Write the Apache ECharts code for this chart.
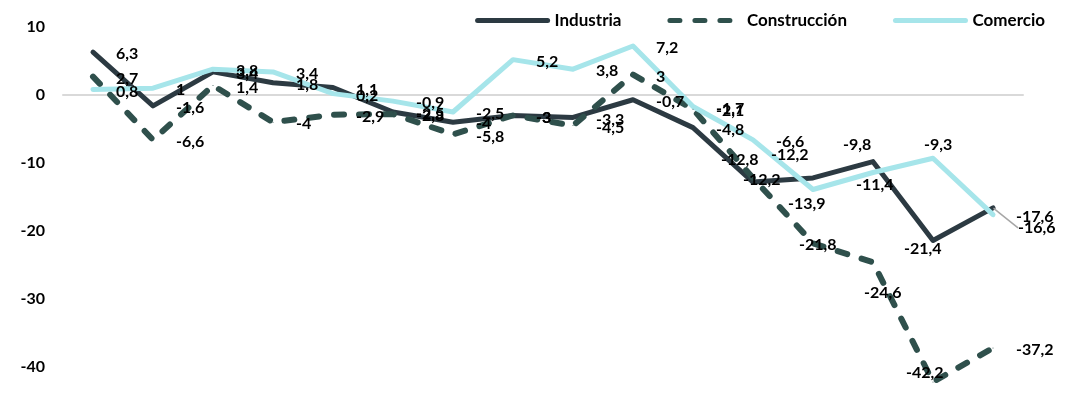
<!DOCTYPE html>
<html>
<head>
<meta charset="utf-8">
<script src="https://cdn.jsdelivr.net/npm/echarts@6/dist/echarts.min.js"></script>
<style>
html,body{margin:0;padding:0;background:#fff;}
#chart{width:1076px;height:413px;}
</style>
</head>
<body>
<div id="chart"></div>
<script>
// ---- data ----
const categories = ['1','2','3','4','5','6','7','8','9','10','11','12','13','14','15','16'];
const industria = [6.3, -1.6, 3.4, 1.8, 1.1, -2.5, -4, -3, -3.3, -0.7, -4.8, -12.8, -12.2, -9.8, -21.4, -16.6];
const construccion = [2.7, -6.6, 1.4, -4, -2.9, -2.8, -5.8, -3, -4.5, 3, -2.1, -12.2, -21.8, -24.6, -42.2, -37.2];
const comercio = [0.8, 1, 3.8, 3.4, 0.2, -0.9, -2.5, 5.2, 3.8, 7.2, -1.7, -6.6, -13.9, -11.4, -9.3, -17.6];
const yTicks = [10, 0, -10, -20, -30, -40];
const seriesNames = ['Industria', 'Construcción', 'Comercio'];

// ---- label placement (style config) ----
const defaultOffset = [23, 2];
const labelOffsets = {
  'Industria': {11: [-32, -22], 12: [-42, -23], 13: [-30, -17], 14: [-29, 8], 15: [25, 20]},
  'Construcción': {11: [-10, 2], 12: [-14, 2], 13: [-9, 31], 14: [-27, -9]},
  'Comercio': {12: [-25, 14], 13: [-17, 12], 14: [-9, -13]}
};
const getOffset = (name, i) => (labelOffsets[name] && labelOffsets[name][i]) || defaultOffset;

const FONT = 'Lato, "Open Sans", "Noto Sans", sans-serif';
const fmt = v => String(v).replace('.', ',');
const LEADER_SERIES = 'Industria';

function buildData(name, values) {
  return values.map((v, i) => {
    const item = {value: v, label: {offset: getOffset(name, i)}};
    if (name === LEADER_SERIES && i === values.length - 1) {
      item.labelLine = {show: true, lineStyle: {color: '#a6a6a6', width: 1.5}};
    }
    return item;
  });
}

const baseLabel = {
  show: true,
  position: 'inside',
  align: 'left',
  verticalAlign: 'middle',
  color: '#000',
  fontFamily: FONT,
  fontWeight: 'bold',
  fontSize: 16,
  formatter: p => fmt(p.value)
};

const styles = {
  'Industria': {color: '#2c3a42', width: 5, type: 'solid'},
  'Construcción': {color: '#2f504c', width: 6, type: [10, 15]},
  'Comercio': {color: '#a6e5ea', width: 5, type: 'solid'}
};
const valuesByName = {'Industria': industria, 'Construcción': construccion, 'Comercio': comercio};

function leaderLayout(p) {
  const off = getOffset(LEADER_SERIES, p.dataIndex);
  const cx = p.rect.x + p.rect.width / 2;
  const cy = p.rect.y + p.rect.height / 2;
  const res = {x: cx + off[0], y: cy + off[1], align: 'left', verticalAlign: 'middle'};
  if (p.dataIndex === valuesByName[LEADER_SERIES].length - 1) {
    const ly = cy + off[1];
    res.labelLinePoints = [[cx + 2, cy + 3], [cx + 2, ly], [cx + off[0] - 4, ly]];
  }
  return res;
}

const chart = echarts.init(document.getElementById('chart'), null, {renderer: 'canvas'});
chart.setOption({
  animation: false,
  backgroundColor: '#fff',
  legend: {
    data: seriesNames,
    right: 26,
    top: 7,
    itemWidth: 70,
    itemHeight: 16,
    itemGap: 46,
    itemStyle: {opacity: 0},
    lineStyle: {width: 5, cap: 'round'},
    textStyle: {fontFamily: FONT, fontWeight: 'bold', fontSize: 17, color: '#000', padding: [0, 0, 0, 2]}
  },
  grid: {left: 63, width: 960, top: 27, height: 408, containLabel: false, outerBoundsMode: 'none'},
  xAxis: {
    type: 'category',
    data: categories,
    boundaryGap: true,
    axisLine: {show: true, onZero: true, lineStyle: {color: '#d9d9d9', width: 2}},
    axisTick: {show: false},
    axisLabel: {show: false},
    splitLine: {show: false}
  },
  yAxis: {
    type: 'value',
    max: yTicks[0],
    min: -50,
    interval: 10,
    axisLine: {show: false},
    axisTick: {show: false},
    splitLine: {show: false},
    axisLabel: {
      margin: 18,
      color: '#000',
      fontFamily: FONT,
      fontWeight: 'bold',
      fontSize: 16,
      formatter: v => yTicks.indexOf(v) >= 0 ? String(v) : ''
    }
  },
  series: seriesNames.map(name => ({
    name: name,
    type: 'line',
    data: buildData(name, valuesByName[name]),
    symbol: 'circle',
    symbolSize: 1,
    showSymbol: true,
    clip: false,
    silent: true,
    itemStyle: {color: styles[name].color},
    lineStyle: {color: styles[name].color, width: styles[name].width, type: styles[name].type, cap: 'round', join: 'round'},
    label: baseLabel,
    labelLayout: name === LEADER_SERIES ? leaderLayout : undefined,
    emphasis: {disabled: true}
  }))
});
</script>
</body>
</html>
